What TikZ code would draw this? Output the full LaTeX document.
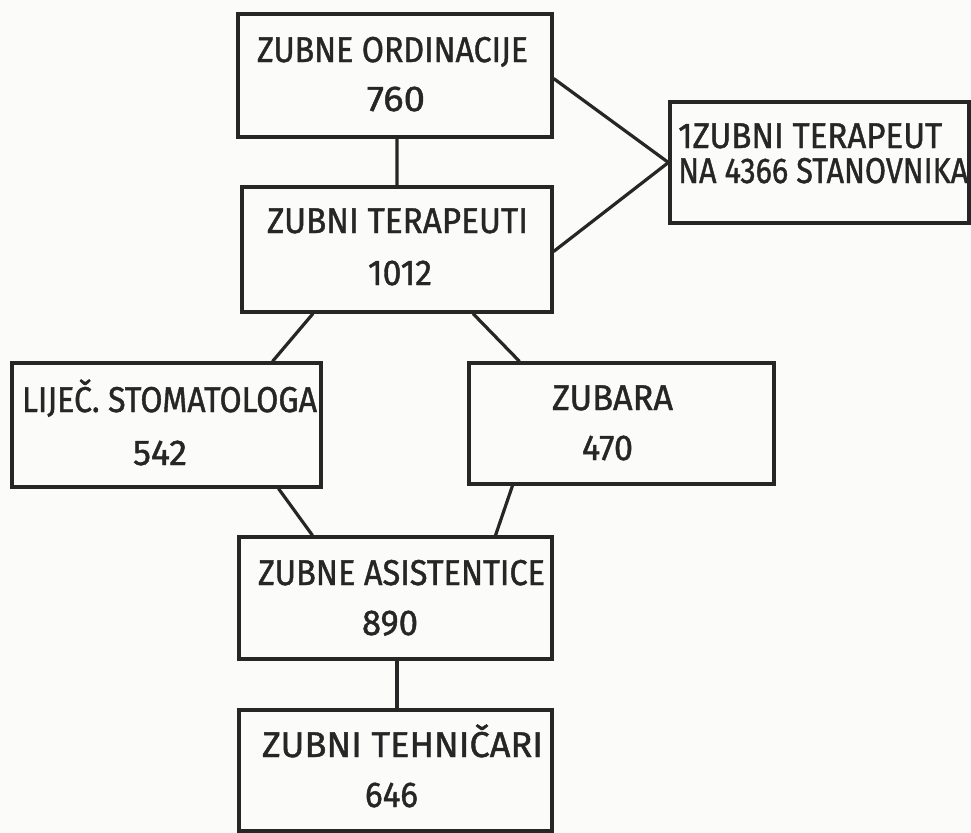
\documentclass[tikz,border=0pt]{standalone}
\usepackage{fontspec}
\usepackage{graphicx}
\setmainfont{Fira Sans}
\newfontfamily\lettering{Fira Sans}[FakeBold=1.2]
\definecolor{ink}{HTML}{262626}
\definecolor{paper}{HTML}{FBFBFA}
\newcommand\fw[2]{\resizebox{#1bp}{\height}{#2}}
\begin{document}
\begin{tikzpicture}[x=1bp,y=-1bp,
  box/.style={draw=ink, line width=3.2bp, inner sep=0pt, rectangle},
  lbl/.style={inner sep=0pt, text=ink, font=\lettering\fontsize{36}{40}\selectfont},
  conn/.style={draw=ink, line width=3.2bp}]
\fill[paper] (0,0) rectangle (971,833);
\useasboundingbox (0,0) rectangle (971,833);
% boxes
\node[box, minimum width=314bp, minimum height=123bp] (b1) at (395,75.5) {};
\node[box, minimum width=310bp, minimum height=125bp] (b2) at (397,249.5) {};
\node[box, minimum width=299bp, minimum height=121bp] (b3) at (819.5,162.5) {};
\node[box, minimum width=309bp, minimum height=124bp] (b4) at (166.5,425) {};
\node[box, minimum width=305bp, minimum height=121bp] (b5) at (621.5,423.5) {};
\node[box, minimum width=313bp, minimum height=122bp] (b6) at (395.5,598) {};
\node[box, minimum width=313bp, minimum height=121bp] (b7) at (395.5,770.5) {};
% texts
\node[lbl, anchor=base] (t1a) at (392.5,62) {\fw{271}{ZUBNE ORDINACIJE}};
\node[lbl, anchor=base] (t1b) at (396,111) {\fw{58}{760}};
\node[lbl, anchor=base] (t2a) at (397.5,233) {\fw{261}{ZUBNI TERAPEUTI}};
\node[lbl, anchor=base] (t2b) at (400,285) {\fw{64}{1012}};
\node[lbl, anchor=base west] (t3a) at (678,148) {\fw{264}{1ZUBNI TERAPEUT}};
\node[lbl, anchor=base west] (t3b) at (678,183) {\fw{290}{NA 4366 STANOVNIKA}};
\node[lbl, anchor=base] (t4a) at (169.5,412) {\fw{295}{LIJEČ. STOMATOLOGA}};
\node[lbl, anchor=base] (t4b) at (160,465) {\fw{54}{542}};
\node[lbl, anchor=base] (t5a) at (612.5,410) {\fw{121}{ZUBARA}};
\node[lbl, anchor=base] (t5b) at (607.5,460) {\fw{51}{470}};
\node[lbl, anchor=base] (t6a) at (401.5,585) {\fw{287}{ZUBNE ASISTENTICE}};
\node[lbl, anchor=base] (t6b) at (390,635) {\fw{56}{890}};
\node[lbl, anchor=base] (t7a) at (402.5,757) {\fw{281}{ZUBNI TEHNIČARI}};
\node[lbl, anchor=base] (t7b) at (391.5,807) {\fw{53}{646}};
% connectors
\draw[conn] ([xshift=2bp]b1.south) -- ([xshift=0bp]b2.north);
\draw[conn] ([yshift=-3bp]b1.east) -- (b3.west);
\draw[conn] ([yshift=-2bp]b2.east) -- (b3.west);
\draw[conn] ([xshift=-84bp]b2.south) -- ([xshift=106bp]b4.north);
\draw[conn] ([xshift=76bp]b2.south) -- ([xshift=-102bp]b5.north);
\draw[conn] ([xshift=112bp]b4.south) -- ([xshift=-83bp]b6.north);
\draw[conn] ([xshift=-109bp]b5.south) -- ([xshift=100bp]b6.north);
\draw[conn] ([xshift=1.5bp]b6.south) -- ([xshift=1.5bp]b7.north);
\end{tikzpicture}
\end{document}
